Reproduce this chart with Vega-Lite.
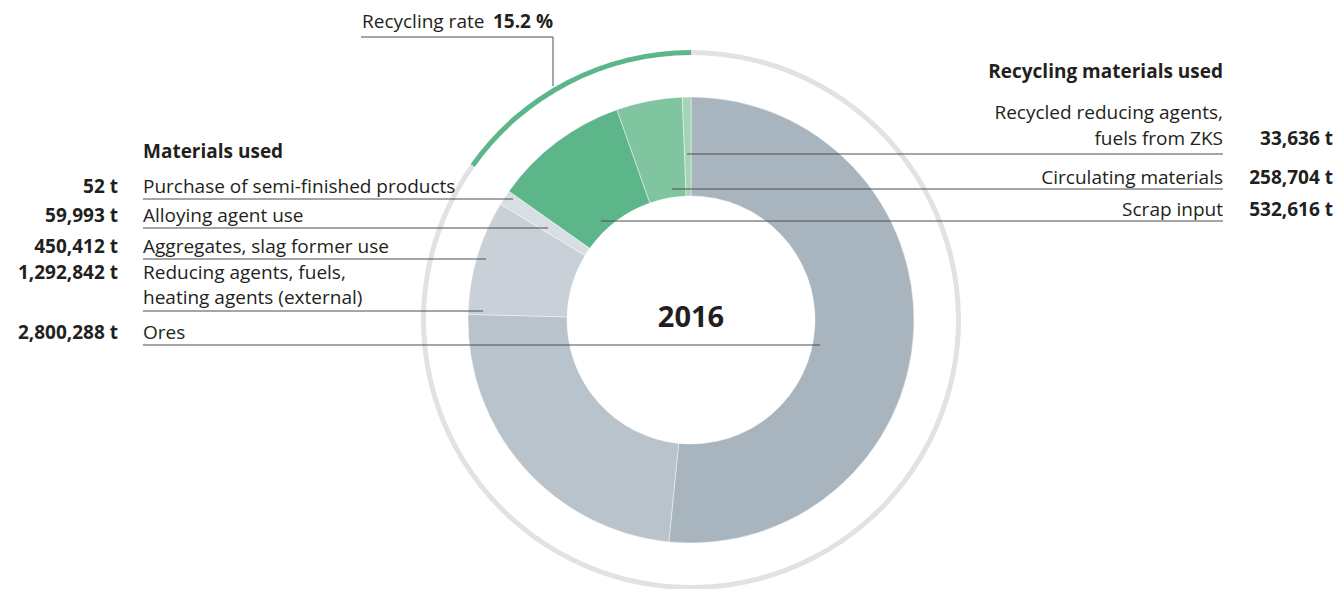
{
  "$schema": "https://vega.github.io/schema/vega-lite/v6.json",
  "width": 1296,
  "height": 538,
  "autosize": {"type": "none"},
  "padding": {"left": 43, "top": 51, "right": 0, "bottom": 0},
  "background": "white",
  "config": {
    "view": {"stroke": null},
    "text": {"font": "Open Sans", "fontSize": 19, "color": "#231f20"}
  },
  "datasets": {
    "materials": [
      {"key": "Ores", "label": "Ores", "tonnes": 2800288, "group": "Materials used", "seq": 1, "ly": 19, "vy": 19, "uy": 25, "ux": 129},
      {"key": "Reducing agents", "label": "Reducing agents, fuels,\nheating agents (external)", "tonnes": 1292842, "group": "Materials used", "seq": 2, "ly": -41, "vy": -41, "uy": -9, "ux": -208},
      {"key": "Aggregates", "label": "Aggregates, slag former use", "tonnes": 450412, "group": "Materials used", "seq": 3, "ly": -67, "vy": -67, "uy": -61, "ux": -205},
      {"key": "Alloying", "label": "Alloying agent use", "tonnes": 59993, "group": "Materials used", "seq": 4, "ly": -98, "vy": -98, "uy": -92, "ux": -143},
      {"key": "Purchase", "label": "Purchase of semi-finished products", "tonnes": 52, "group": "Materials used", "seq": 5, "ly": -127, "vy": -127, "uy": -121, "ux": -178},
      {"key": "Scrap", "label": "Scrap input", "tonnes": 532616, "group": "Recycling materials used", "seq": 6, "ly": -104, "vy": -104, "uy": -99, "ux": -90},
      {"key": "Circulating", "label": "Circulating materials", "tonnes": 258704, "group": "Recycling materials used", "seq": 7, "ly": -136, "vy": -136, "uy": -131, "ux": -19},
      {"key": "Recycled reducing agents", "label": "Recycled reducing agents,\nfuels from ZKS", "tonnes": 33636, "group": "Recycling materials used", "seq": 8, "ly": -201, "vy": -175, "uy": -166, "ux": -4}
    ],
    "notes": [
      {"text": "Materials used", "kind": "boldleft", "tx": -548, "ty": -162},
      {"text": "Recycling materials used", "kind": "boldright", "tx": 532, "ty": -242},
      {"text": "15.2 %", "kind": "boldright", "tx": -138, "ty": -292},
      {"text": "Recycling rate", "kind": "left", "tx": -329, "ty": -292},
      {"text": "2016", "kind": "year", "tx": 0, "ty": 7}
    ],
    "leaders": [
      {"x1": -330, "x2": -138, "y1": -283, "y2": -283},
      {"x1": -138, "x2": -138, "y1": -283, "y2": -234}
    ]
  },
  "layer": [
    {
      "data": {"name": "materials"},
      "transform": [{"aggregate": [{"op": "sum", "field": "tonnes", "as": "total"}], "groupby": ["group"]}],
      "mark": {"type": "arc", "innerRadius": 265, "outerRadius": 270},
      "encoding": {
        "theta": {"field": "total", "type": "quantitative", "stack": true},
        "order": {"field": "group", "type": "ordinal"},
        "color": {"field": "group", "type": "nominal", "legend": null}
      }
    },
    {
      "data": {"name": "materials"},
      "mark": {"type": "arc", "innerRadius": 124, "outerRadius": 223, "stroke": "#ffffff", "strokeWidth": 0.6, "strokeOpacity": 0.7},
      "encoding": {
        "theta": {"field": "tonnes", "type": "quantitative", "stack": true},
        "order": {"field": "seq", "type": "quantitative"},
        "color": {"field": "key", "type": "nominal", "legend": null,
          "scale": {
            "domain": ["Ores", "Reducing agents", "Aggregates", "Alloying", "Purchase", "Scrap", "Circulating", "Recycled reducing agents", "Materials used", "Recycling materials used"],
            "range": ["#a8b5be", "#b8c3cb", "#c9d0d7", "#d9dee2", "#d9dee2", "#5cb68a", "#80c4a0", "#a3d4b6", "#e2e2e2", "#5cb68a"]
          }}
      }
    },
    {
      "data": {"name": "materials"},
      "transform": [
        {"filter": "datum.group === 'Materials used'"},
        {"calculate": "-548", "as": "lx"}
      ],
      "mark": {"type": "rule", "color": "#4d4d4d", "strokeWidth": 1},
      "encoding": {
        "x": {"field": "lx", "type": "quantitative", "scale": {"domain": [-648, 648], "nice": false}, "axis": null},
        "x2": {"field": "ux"},
        "y": {"field": "uy", "type": "quantitative", "scale": {"domain": [-269, 269], "nice": false, "reverse": true}, "axis": null}
      }
    },
    {
      "data": {"name": "materials"},
      "transform": [
        {"filter": "datum.group === 'Recycling materials used'"},
        {"calculate": "532", "as": "rx"}
      ],
      "mark": {"type": "rule", "color": "#4d4d4d", "strokeWidth": 1},
      "encoding": {
        "x": {"field": "ux", "type": "quantitative", "scale": {"domain": [-648, 648], "nice": false}, "axis": null},
        "x2": {"field": "rx"},
        "y": {"field": "uy", "type": "quantitative", "scale": {"domain": [-269, 269], "nice": false, "reverse": true}, "axis": null}
      }
    },
    {
      "data": {"name": "leaders"},
      "mark": {"type": "rule", "color": "#4d4d4d", "strokeWidth": 1},
      "encoding": {
        "x": {"field": "x1", "type": "quantitative", "scale": {"domain": [-648, 648], "nice": false}, "axis": null},
        "x2": {"field": "x2"},
        "y": {"field": "y1", "type": "quantitative", "scale": {"domain": [-269, 269], "nice": false, "reverse": true}, "axis": null},
        "y2": {"field": "y2"}
      }
    },
    {
      "data": {"name": "materials"},
      "transform": [
        {"filter": "datum.group === 'Materials used'"},
        {"calculate": "-548", "as": "lx"}
      ],
      "mark": {"type": "text", "align": "left", "baseline": "alphabetic", "lineBreak": "\n", "lineHeight": 25},
      "encoding": {
        "x": {"field": "lx", "type": "quantitative", "scale": {"domain": [-648, 648], "nice": false}, "axis": null},
        "y": {"field": "ly", "type": "quantitative", "scale": {"domain": [-269, 269], "nice": false, "reverse": true}, "axis": null},
        "text": {"field": "label", "type": "nominal"}
      }
    },
    {
      "data": {"name": "materials"},
      "transform": [
        {"filter": "datum.group === 'Materials used'"},
        {"calculate": "format(datum.tonnes, ',') + ' t'", "as": "vlabel"},
        {"calculate": "-573", "as": "vx"}
      ],
      "mark": {"type": "text", "align": "right", "baseline": "alphabetic", "fontWeight": "bold"},
      "encoding": {
        "x": {"field": "vx", "type": "quantitative", "scale": {"domain": [-648, 648], "nice": false}, "axis": null},
        "y": {"field": "vy", "type": "quantitative", "scale": {"domain": [-269, 269], "nice": false, "reverse": true}, "axis": null},
        "text": {"field": "vlabel", "type": "nominal"}
      }
    },
    {
      "data": {"name": "materials"},
      "transform": [
        {"filter": "datum.group === 'Recycling materials used'"},
        {"calculate": "532", "as": "lx"}
      ],
      "mark": {"type": "text", "align": "right", "baseline": "alphabetic", "lineBreak": "\n", "lineHeight": 26},
      "encoding": {
        "x": {"field": "lx", "type": "quantitative", "scale": {"domain": [-648, 648], "nice": false}, "axis": null},
        "y": {"field": "ly", "type": "quantitative", "scale": {"domain": [-269, 269], "nice": false, "reverse": true}, "axis": null},
        "text": {"field": "label", "type": "nominal"}
      }
    },
    {
      "data": {"name": "materials"},
      "transform": [
        {"filter": "datum.group === 'Recycling materials used'"},
        {"calculate": "format(datum.tonnes, ',') + ' t'", "as": "vlabel"},
        {"calculate": "642", "as": "vx"}
      ],
      "mark": {"type": "text", "align": "right", "baseline": "alphabetic", "fontWeight": "bold"},
      "encoding": {
        "x": {"field": "vx", "type": "quantitative", "scale": {"domain": [-648, 648], "nice": false}, "axis": null},
        "y": {"field": "vy", "type": "quantitative", "scale": {"domain": [-269, 269], "nice": false, "reverse": true}, "axis": null},
        "text": {"field": "vlabel", "type": "nominal"}
      }
    },
    {
      "data": {"name": "notes"},
      "transform": [{"filter": "datum.kind === 'boldleft'"}],
      "mark": {"type": "text", "align": "left", "baseline": "alphabetic", "fontWeight": "bold"},
      "encoding": {
        "x": {"field": "tx", "type": "quantitative", "scale": {"domain": [-648, 648], "nice": false}, "axis": null},
        "y": {"field": "ty", "type": "quantitative", "scale": {"domain": [-269, 269], "nice": false, "reverse": true}, "axis": null},
        "text": {"field": "text", "type": "nominal"}
      }
    },
    {
      "data": {"name": "notes"},
      "transform": [{"filter": "datum.kind === 'boldright'"}],
      "mark": {"type": "text", "align": "right", "baseline": "alphabetic", "fontWeight": "bold"},
      "encoding": {
        "x": {"field": "tx", "type": "quantitative", "scale": {"domain": [-648, 648], "nice": false}, "axis": null},
        "y": {"field": "ty", "type": "quantitative", "scale": {"domain": [-269, 269], "nice": false, "reverse": true}, "axis": null},
        "text": {"field": "text", "type": "nominal"}
      }
    },
    {
      "data": {"name": "notes"},
      "transform": [{"filter": "datum.kind === 'left'"}],
      "mark": {"type": "text", "align": "left", "baseline": "alphabetic"},
      "encoding": {
        "x": {"field": "tx", "type": "quantitative", "scale": {"domain": [-648, 648], "nice": false}, "axis": null},
        "y": {"field": "ty", "type": "quantitative", "scale": {"domain": [-269, 269], "nice": false, "reverse": true}, "axis": null},
        "text": {"field": "text", "type": "nominal"}
      }
    },
    {
      "data": {"name": "notes"},
      "transform": [{"filter": "datum.kind === 'year'"}],
      "mark": {"type": "text", "align": "center", "baseline": "alphabetic", "fontWeight": "bold", "fontSize": 29},
      "encoding": {
        "x": {"field": "tx", "type": "quantitative", "scale": {"domain": [-648, 648], "nice": false}, "axis": null},
        "y": {"field": "ty", "type": "quantitative", "scale": {"domain": [-269, 269], "nice": false, "reverse": true}, "axis": null},
        "text": {"field": "text", "type": "nominal"}
      }
    }
  ]
}
